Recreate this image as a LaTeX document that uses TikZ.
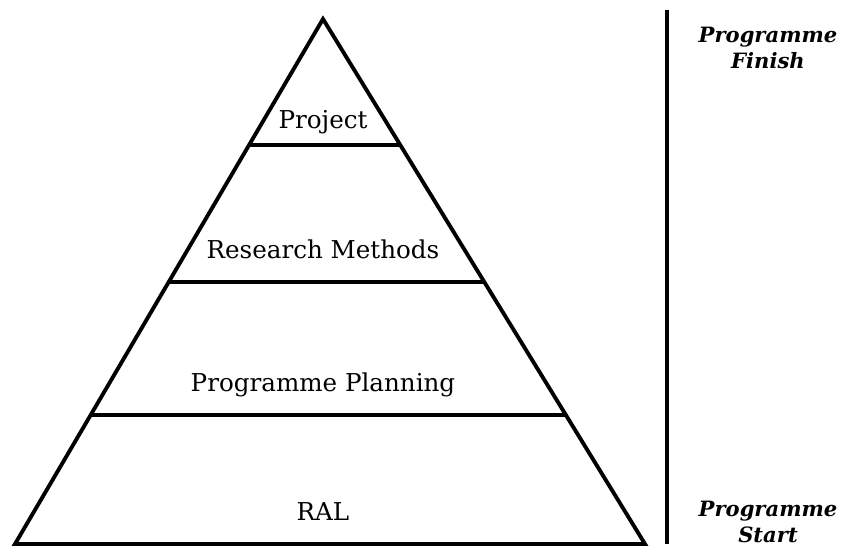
\documentclass[tikz,border=0pt]{standalone}
\usepackage{fontspec}
\setmainfont{DejaVu Serif}
\usetikzlibrary{calc}

\tikzset{
  edge/.style={line width=2.2pt, line join=miter},
  tier/.style={draw=none, font=\fontsize{14}{16}\selectfont},
  phase/.style={draw=none, align=center, font=\fontsize{12}{15}\selectfont\bfseries\itshape}
}

\begin{document}
\begin{tikzpicture}[x=0.02cm, y=-0.02cm]
    \useasboundingbox (0,0) rectangle (846,549);
    \coordinate (apex) at (323,19);
    \coordinate (baseleft) at (15,544);
    \coordinate (baseright) at (645,544);
    \draw[edge] (apex) -- (baseright) -- (baseleft) -- cycle;
    % tiers
    \foreach \t/\n in {0.24/one, 0.501/two, 0.754/three} {
      \coordinate (L\n) at ($(apex)!\t!(baseleft)$);
      \coordinate (R\n) at ($(apex)!\t!(baseright)$);
      \draw[edge] (L\n) -- (R\n);
    }
    \node[tier] (project) at (323,122) {Project};
    \node[tier] (research) at (323,249) {Research Methods};
    \node[tier] (planning) at (323,385) {Programme Planning};
    \node[tier] (ral) at (323,512) {RAL};
    % time line
    \coordinate (finishend) at (667,10);
    \coordinate (startend) at (667,544);
    \draw[line width=2pt] (finishend) -- (startend);
    \node[phase] (finish) at (768,48) {Programme\\Finish};
    \node[phase] (start) at (768,522) {Programme\\Start};
\end{tikzpicture}
\end{document}
